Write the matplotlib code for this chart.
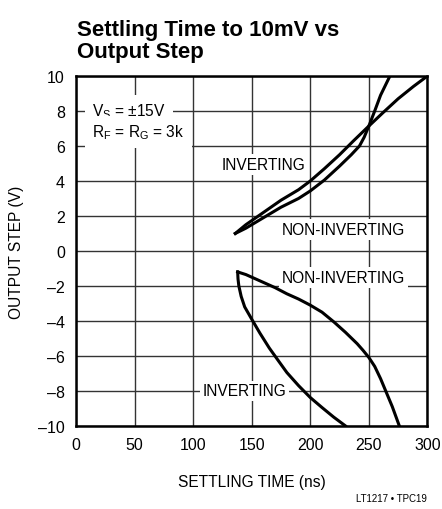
import matplotlib
matplotlib.use("Agg")
import matplotlib.pyplot as plt

plt.rcParams["font.family"] = ["Liberation Sans", "DejaVu Sans"]
plt.rcParams["mathtext.default"] = "regular"

# values
inv_up_t = [136, 145, 160, 175, 190, 200, 212, 225, 237, 250, 262, 275, 288, 300]
inv_up_v = [1.0, 1.5, 2.2, 2.9, 3.5, 4.0, 4.7, 5.5, 6.3, 7.14, 7.9, 8.7, 9.4, 10.0]

noninv_up_t = [136, 145, 160, 175, 190, 200, 212, 225, 235, 242, 246, 250, 255, 260, 268]
noninv_up_v = [1.0, 1.3, 1.9, 2.5, 3.0, 3.43, 4.05, 4.85, 5.5, 6.0, 6.5, 7.14, 8.0, 8.9, 10.0]

noninv_lo_t = [138, 145, 150, 160, 170, 180, 190, 200, 210, 220, 230, 240, 245, 250,
               255, 260, 265, 270, 276]
noninv_lo_v = [-1.2, -1.35, -1.5, -1.8, -2.1, -2.45, -2.75, -3.1, -3.5, -4.05, -4.65, -5.3,
               -5.68, -6.09, -6.6, -7.3, -8.1, -8.9, -10.0]

inv_lo_t = [138, 138.3, 139, 141, 144, 150, 157, 165, 173, 180, 190, 200, 210, 220, 230]
inv_lo_v = [-1.2, -1.6, -2.0, -2.6, -3.2, -3.9, -4.7, -5.55, -6.3, -6.95, -7.7, -8.38,
            -8.95, -9.5, -10.0]

x_ticks = [0, 50, 100, 150, 200, 250, 300]
y_ticks = [-10, -8, -6, -4, -2, 0, 2, 4, 6, 8, 10]

fig = plt.figure(figsize=(4.42, 5.10), dpi=100)
ax = fig.add_axes([0.172, 0.163, 0.795, 0.686])

ax.set_xlim(0, 300)
ax.set_ylim(-10, 10)
ax.set_xticks(x_ticks)
ax.set_yticks(y_ticks)
ax.set_yticklabels([str(v).replace("-", "\u2013") for v in y_ticks])
ax.tick_params(length=0, pad=8, labelsize=11.5)
ax.grid(True, color="#333333", linewidth=1.0)
ax.set_axisbelow(True)
for s in ax.spines.values():
    s.set_linewidth(1.8)

for t, v in [(inv_up_t, inv_up_v), (noninv_up_t, noninv_up_v),
             (noninv_lo_t, noninv_lo_v), (inv_lo_t, inv_lo_v)]:
    ax.plot(t, v, color="black", linewidth=2.2, solid_joinstyle="round", zorder=3)

fs = 11.2
box = dict(facecolor="white", edgecolor="none", pad=2)
ax.text(14, 8.0, "V$_S$ = \u00b115V", fontsize=fs, va="center", ha="left",
        bbox=dict(facecolor="white", edgecolor="none", pad=5))
ax.text(14, 6.8, "R$_F$ = R$_G$ = 3k", fontsize=fs, va="center", ha="left",
        bbox=dict(facecolor="white", edgecolor="none", pad=5))
ax.text(124.5, 4.95, "INVERTING", fontsize=fs, va="center", ha="left", bbox=box)
ax.text(176, 1.24, "NON-INVERTING", fontsize=fs, va="center", ha="left", bbox=box)
ax.text(176, -1.52, "NON-INVERTING", fontsize=fs, va="center", ha="left", bbox=box)
ax.text(108, -8.0, "INVERTING", fontsize=fs, va="center", ha="left", bbox=box)

ax.set_xlabel("SETTLING TIME (ns)", fontsize=fs, labelpad=16)
ax.set_ylabel("OUTPUT STEP (V)", fontsize=fs, labelpad=10)

fig.text(0.174, 0.877, "Settling Time to 10mV vs\nOutput Step", fontsize=16,
         fontweight="bold", ha="left", va="bottom", linespacing=1.05)
fig.text(0.965, 0.012, "LT1217 \u2022 TPC19", fontsize=7, ha="right", va="bottom")

fig.savefig("out.png", dpi=100)
